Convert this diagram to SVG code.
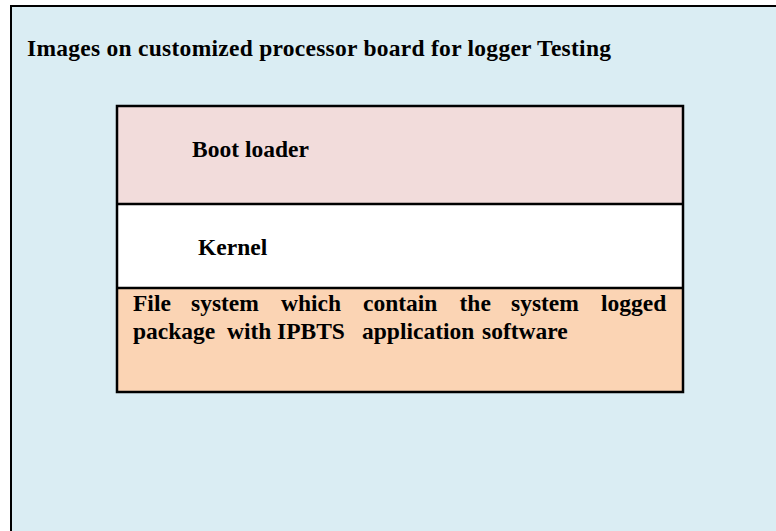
<svg xmlns="http://www.w3.org/2000/svg" width="776" height="531" viewBox="0 0 776 531">
  <style>
    .lbl { font-family: "Liberation Serif", "Times New Roman", serif; font-weight: bold; font-size: 23.5px; fill: #000; }
    .edge { stroke: #000; stroke-width: 2.5; }
  </style>
  <rect x="0" y="0" width="776" height="531" fill="#ffffff"/>

  <!-- outer board frame, runs past the right and bottom edges -->
  <g id="board">
    <rect x="11" y="6" width="800" height="560" fill="#DAEDF3" stroke="#000" stroke-width="2"/>
    <text class="lbl" x="27" y="56" font-size="24" textLength="584" lengthAdjust="spacing">Images on customized processor board for logger Testing</text>
  </g>

  <!-- image stack -->
  <g id="bootloader">
    <rect x="117" y="106" width="566" height="98" fill="#F2DCDB"/>
    <text class="lbl" x="192" y="157">Boot loader</text>
  </g>
  <g id="kernel">
    <rect x="117" y="204" width="566" height="84" fill="#FFFFFF"/>
    <text class="lbl" x="198" y="255">Kernel</text>
  </g>
  <g id="filesystem">
    <rect x="117" y="288" width="566" height="104" fill="#FBD4B4"/>
    <text class="lbl" y="311"><tspan x="133">File</tspan><tspan x="191">system</tspan><tspan x="281">which</tspan><tspan x="363">contain</tspan><tspan x="459.5">the</tspan><tspan x="511">system</tspan><tspan x="601">logged</tspan></text>
    <text class="lbl" y="339"><tspan x="133">package</tspan><tspan x="227">with</tspan><tspan x="277">IPBTS</tspan><tspan x="362">application</tspan><tspan x="482">software</tspan></text>
  </g>

  <!-- stack outline and dividers -->
  <g id="stack-lines" fill="none">
    <rect class="edge" x="117" y="106" width="566" height="286"/>
    <line class="edge" x1="117" y1="204" x2="683" y2="204"/>
    <line class="edge" x1="117" y1="288" x2="683" y2="288"/>
  </g>
</svg>
